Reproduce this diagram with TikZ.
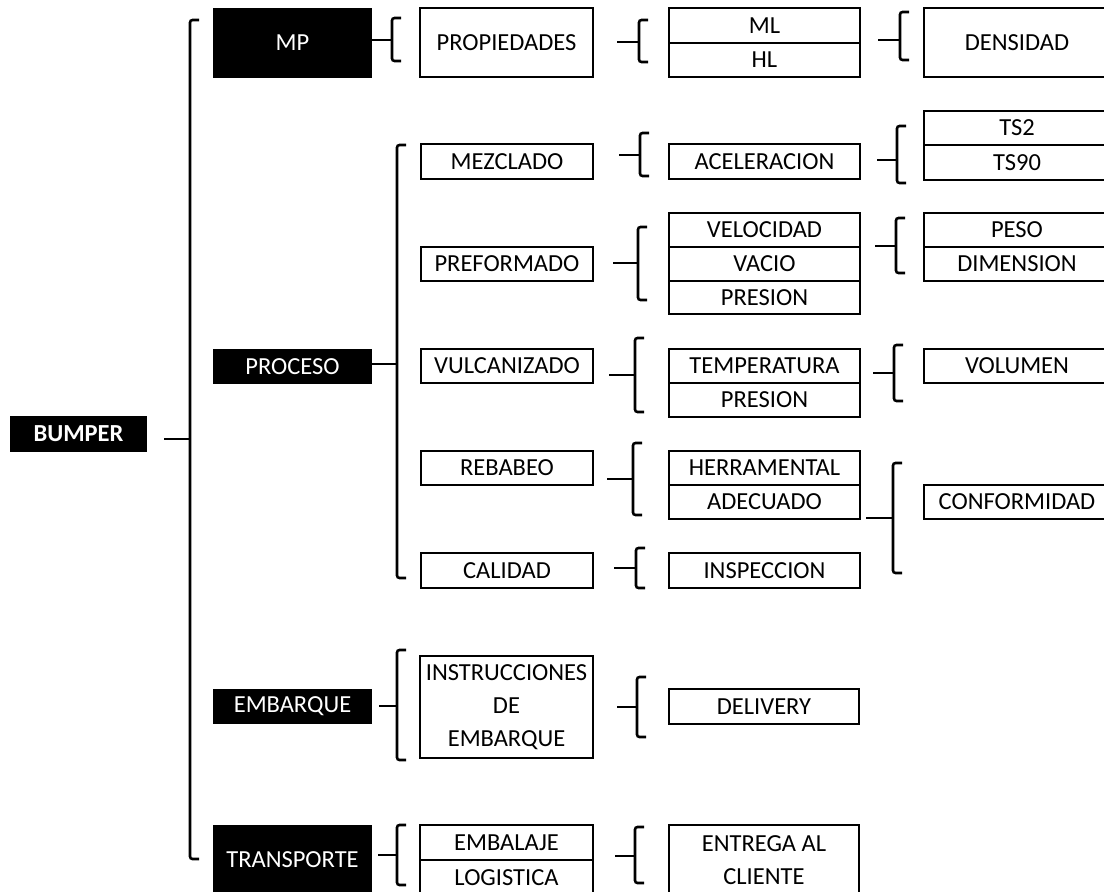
\documentclass[tikz,border=0pt]{standalone}
\usepackage{fontspec}
\setmainfont{Carlito}
\tikzset{
  cell/.style={draw=black, line width=1.8pt, fill=white, inner sep=0pt, outer sep=0pt,
    font=\fontsize{24.5}{33}\selectfont, align=center},
  dark/.style={fill=black, text=white, inner sep=0pt, outer sep=0pt,
    font=\fontsize{24.5}{33}\selectfont},
  brc/.style={line width=2.6pt, rounded corners=2.5pt},
}
% box from corners: [style]{name}{x1}{y1}{x2}{y2}{text}
\newcommand\bx[7][cell]{%
  \pgfmathsetmacro\bxcx{(#3+#5)/2}\pgfmathsetmacro\bxcy{(#4+#6)/2}%
  \pgfmathsetmacro\bxw{#5-#3}\pgfmathsetmacro\bxh{#6-#4}%
  \node[#1, minimum width=\bxw pt, minimum height=\bxh pt] (#2) at (\bxcx,\bxcy) {#7};}
% brace: {name}{x stub start}{x brace}{y mid}{y top}{y bottom}
\newcommand\brc[6]{%
  \coordinate (#1-s) at (#2,#4);
  \coordinate (#1-b) at (#3,#4);
  \draw[brc] (#3+9,#5) -- (#3,#5) -- (#3,#6) -- (#3+9,#6);
  \draw[brc] (#1-s) -- (#1-b);}
\begin{document}
\begin{tikzpicture}[x=1pt,y=-1pt]
\useasboundingbox (0,0) rectangle (1104,892);
\clip (0,0) rectangle (1104,892);
% level 0
\bx[dark]{bumper}{10}{416}{147}{452}{\bfseries BUMPER}
% level 1
\bx[dark]{mp}{213}{8}{372}{78}{MP}
\bx[dark]{proceso}{213}{349}{372}{384}{PROCESO}
\bx[dark]{embarque}{213}{689}{372}{724}{EMBARQUE}
\bx[dark]{transporte}{213}{825}{372}{895}{TRANSPORTE}
% level 2
\bx{prop}{420}{8}{593}{77}{PROPIEDADES}
\bx{mezc}{421}{144}{593}{179}{MEZCLADO}
\bx{pref}{421}{247}{593}{281}{PREFORMADO}
\bx{vulc}{421}{349}{593}{383}{VULCANIZADO}
\bx{rebab}{421}{451}{593}{485}{REBABEO}
\bx{calid}{421}{553}{593}{588}{CALIDAD}
\bx{instr}{420}{656}{593}{758}{INSTRUCCIONES\\DE\\EMBARQUE}
\bx{embal}{420}{825}{593}{860}{EMBALAJE}
\bx{logis}{420}{860}{593}{895}{LOGISTICA}
% level 3
\bx{ml}{669}{8}{860}{43}{ML}
\bx{hl}{669}{43}{860}{77}{HL}
\bx{acel}{669}{144}{860}{179}{ACELERACION}
\bx{vel}{669}{213}{860}{247}{VELOCIDAD}
\bx{vac}{669}{247}{860}{281}{VACIO}
\bx{pres}{669}{281}{860}{314}{PRESION}
\bx{temp}{669}{349}{860}{383}{TEMPERATURA}
\bx{presb}{669}{383}{860}{417}{PRESION}
\bx{herr}{669}{451}{860}{485}{HERRAMENTAL}
\bx{adec}{669}{485}{860}{519}{ADECUADO}
\bx{insp}{669}{553}{860}{588}{INSPECCION}
\bx{deliv}{669}{689}{859}{724}{DELIVERY}
\bx{entrega}{669}{825}{859}{895}{ENTREGA AL\\CLIENTE}
% level 4
\bx{dens}{924}{8}{1110}{77}{DENSIDAD}
\bx{ts2}{924}{111}{1110}{145}{TS2}
\bx{ts90}{924}{145}{1110}{180}{TS90}
\bx{peso}{924}{213}{1110}{247}{PESO}
\bx{dim}{924}{247}{1110}{281}{DIMENSION}
\bx{vol}{924}{349}{1110}{383}{VOLUMEN}
\bx{conf}{924}{485}{1110}{519}{CONFORMIDAD}
% braces
\brc{bumper}{164}{190}{439}{20}{859}
\brc{mp}{372}{392}{40}{18}{61}
\brc{proceso}{372}{397}{364}{145}{578}
\brc{embarque}{379}{397}{706}{650}{760}
\brc{transporte}{378}{397}{855}{825}{885}
\brc{prop}{617}{639}{42}{20}{62}
\brc{mezc}{619}{640}{155}{133}{176}
\brc{pref}{613}{638}{263}{227}{300}
\brc{vulc}{609}{635}{375}{338}{412}
\brc{rebab}{607}{633}{479}{443}{515}
\brc{calid}{614}{636}{568}{548}{588}
\brc{instr}{617}{637}{707}{677}{737}
\brc{embal}{615}{635}{856}{827}{883}
\brc{ml}{878}{900}{40}{12}{60}
\brc{acel}{877}{897}{160}{126}{183}
\brc{vel}{875}{896}{246}{218}{273}
\brc{temp}{873}{894}{373}{345}{401}
\brc{adec}{866}{893}{518}{463}{573}
\end{tikzpicture}
\end{document}
